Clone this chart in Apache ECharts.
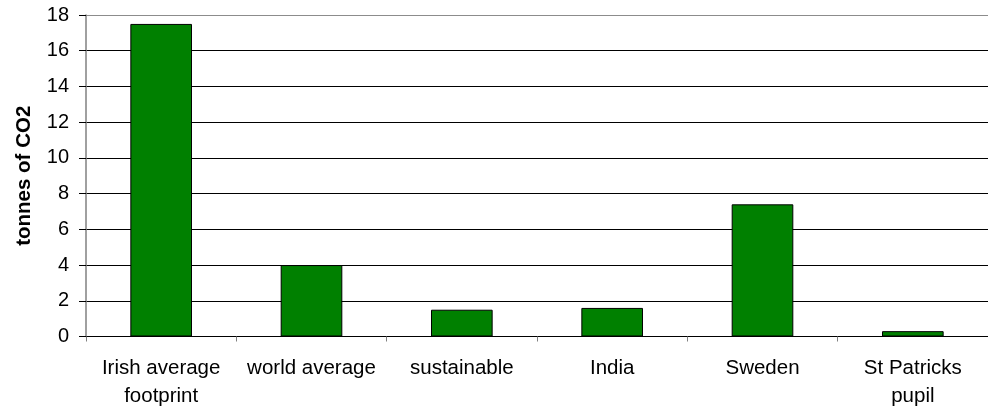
<!DOCTYPE html>
<html>
<head>
<meta charset="utf-8">
<script src="https://cdn.jsdelivr.net/npm/echarts@6/dist/echarts.min.js"></script>
<style>
  html, body { margin: 0; padding: 0; background: #ffffff; }
  #chart { width: 988px; height: 411px; }
</style>
</head>
<body>
<div id="chart"></div>
<script>
// Annual carbon footprint per person, tonnes of CO2
const categories = [
  'Irish average\nfootprint',
  'world average',
  'sustainable',
  'India',
  'Sweden',
  'St Patricks\npupil'
];
const footprint = [17.5, 4.0, 1.5, 1.6, 7.4, 0.3];
const yTicks = { min: 0, max: 18, interval: 2 };
const yAxisTitle = 'tonnes of CO2';

const font = '"Liberation Sans", Arial, Helvetica, sans-serif';

// top gridline is drawn lighter, as the plot frame
const gridColors = [];
for (let v = yTicks.min; v <= yTicks.max; v += yTicks.interval) {
  gridColors.push(v === yTicks.max ? '#8c8c8c' : '#000000');
}

const chart = echarts.init(document.getElementById('chart'), null, { renderer: 'canvas' });
chart.setOption({
  backgroundColor: '#ffffff',
  animation: false,
  grid: { left: 86, right: -7, top: 15, bottom: 74.5, containLabel: false },
  xAxis: {
    type: 'category',
    data: categories,
    boundaryGap: true,
    axisLine: { show: true, lineStyle: { color: '#000000', width: 1 } },
    axisTick: { show: true, length: 5, alignWithLabel: false, lineStyle: { color: '#808080', width: 1 } },
    axisLabel: {
      interval: 0,
      margin: 18,
      color: '#000000',
      fontFamily: font,
      fontSize: 20.5,
      lineHeight: 28,
      align: 'center'
    },
    splitLine: { show: false }
  },
  yAxis: {
    type: 'value',
    min: yTicks.min,
    max: yTicks.max,
    interval: yTicks.interval,
    name: yAxisTitle,
    nameLocation: 'middle',
    nameRotate: 90,
    nameGap: 51,
    nameTextStyle: { color: '#000000', fontFamily: font, fontSize: 20.5, fontWeight: 'bold' },
    axisLine: { show: true, lineStyle: { color: '#808080', width: 1.5 } },
    axisTick: { show: true, inside: false, length: 7, lineStyle: { color: '#000000', width: 1 } },
    axisLabel: { margin: 17, color: '#000000', fontFamily: font, fontSize: 20 },
    splitLine: { show: true, lineStyle: { color: gridColors, width: 1 } }
  },
  series: [{
    type: 'bar',
    data: footprint,
    barCategoryGap: '59%',
    itemStyle: { color: '#008000', borderColor: '#000000', borderWidth: 1 },
    emphasis: { disabled: true }
  }]
});
</script>
</body>
</html>
